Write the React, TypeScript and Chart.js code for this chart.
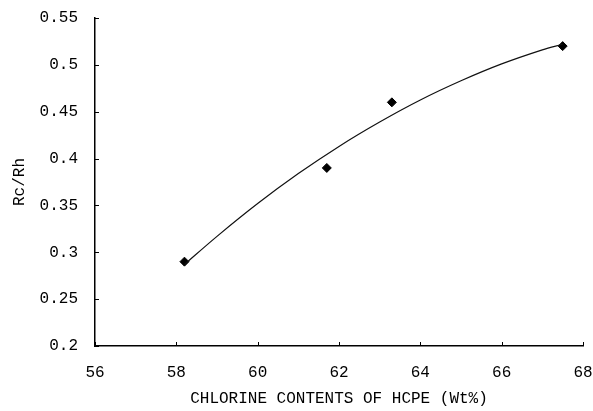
import React, { useEffect, useRef } from "react";
import { Chart, registerables } from "chart.js";

Chart.register(...registerables);

// Measured data (chlorine content wt%, Rc/Rh)
const measuredX = [58.2, 61.7, 63.3, 67.5];
const measuredY = [0.29, 0.39, 0.46, 0.52];

// Trend curve
const curveX = [58.2, 59, 60, 61, 62, 63, 64, 65, 66, 67, 67.5];
const curveY = [0.287, 0.317, 0.352, 0.384, 0.413, 0.439, 0.4625, 0.483, 0.501, 0.516, 0.522];

const xTicks = [56, 58, 60, 62, 64, 66, 68];
const yTicks = [0.2, 0.25, 0.3, 0.35, 0.4, 0.45, 0.5, 0.55];

const xTitle = "CHLORINE CONTENTS OF HCPE (Wt%)";
const yTitle = "Rc/Rh";

const FONT = "'Liberation Mono', 'DejaVu Sans Mono', monospace";

const innerTicks = {
  id: "innerTicks",
  afterDatasetsDraw(chart: any) {
    const { ctx, scales } = chart;
    const xs = scales.x;
    const ys = scales.y;
    ctx.save();
    ctx.strokeStyle = "#000";
    ctx.lineWidth = 1;
    ctx.beginPath();
    for (const v of yTicks) {
      const py = Math.round(ys.getPixelForValue(v)) + 0.5;
      ctx.moveTo(xs.left, py);
      ctx.lineTo(xs.left + 4, py);
    }
    for (const v of xTicks) {
      const px = Math.round(xs.getPixelForValue(v)) + 0.5;
      ctx.moveTo(px, ys.bottom);
      ctx.lineTo(px, ys.bottom - 4);
    }
    ctx.stroke();
    ctx.restore();
  },
};

export default function App() {
  const ref = useRef<HTMLCanvasElement | null>(null);

  useEffect(() => {
    if (!ref.current) return;
    const chart = new Chart(ref.current, {
      type: "scatter",
      data: {
        datasets: [
          {
            label: "fit",
            data: curveX.map((x, i) => ({ x, y: curveY[i] })),
            showLine: true,
            borderColor: "#111",
            borderWidth: 1.2,
            pointRadius: 0,
            tension: 0.35,
            fill: false,
          },
          {
            label: "data",
            data: measuredX.map((x, i) => ({ x, y: measuredY[i] })),
            pointStyle: "rectRot",
            pointRadius: 4.5,
            backgroundColor: "#000",
            borderColor: "#000",
            borderWidth: 1,
            showLine: false,
          },
        ],
      },
      options: {
        responsive: false,
        animation: false,
        layout: { padding: { top: 18, right: 10, left: 0, bottom: 0 } },
        plugins: {
          legend: { display: false },
          tooltip: { enabled: false },
        },
        scales: {
          x: {
            type: "linear",
            min: 56,
            max: 68,
            afterBuildTicks: (axis: any) => {
              axis.ticks = xTicks.map((v) => ({ value: v }));
            },
            afterFit: (axis: any) => {
              axis.height = 65;
              axis.paddingLeft = 0;
              axis.paddingRight = 0;
            },
            grid: { display: false, drawTicks: false },
            border: { display: true, color: "#000", width: 1.5 },
            ticks: {
              color: "#000",
              padding: 17,
              font: { family: FONT, size: 16 },
              maxRotation: 0,
              autoSkip: false,
            },
            title: {
              display: true,
              text: xTitle,
              color: "#000",
              font: { family: FONT, size: 16 },
              padding: { top: 0, bottom: 3 },
            },
          },
          y: {
            type: "linear",
            min: 0.2,
            max: 0.55,
            afterBuildTicks: (axis: any) => {
              axis.ticks = yTicks.map((v) => ({ value: v }));
            },
            afterFit: (axis: any) => {
              axis.width = 95;
              axis.paddingTop = 0;
              axis.paddingBottom = 0;
            },
            grid: { display: false, drawTicks: false },
            border: { display: true, color: "#000", width: 1.5 },
            ticks: {
              color: "#000",
              padding: 17,
              font: { family: FONT, size: 16 },
              callback: (v: any) => String(Math.round(Number(v) * 100) / 100),
              autoSkip: false,
            },
            title: {
              display: true,
              text: yTitle,
              color: "#000",
              font: { family: FONT, size: 16 },
              padding: { top: 10, bottom: 0 },
            },
          },
        },
      },
      plugins: [innerTicks],
    });
    return () => chart.destroy();
  }, []);

  return (
    <div style={{ position: "absolute", left: 0, top: 0, width: 593, height: 411, background: "#fff" }}>
      <canvas ref={ref} width={593} height={411} />
    </div>
  );
}
